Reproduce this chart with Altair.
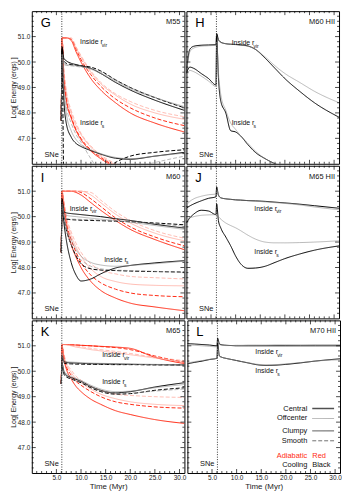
import altair as alt
import pandas as pd

# ---------------- data ----------------
T_SN = [6.0, 6.15, 6.5, 7, 8, 9, 10, 12, 14, 17, 20, 25, 31]
T_HII = [0, 0.7, 1.5, 3, 4.5, 6.0, 6.15, 6.5, 7, 8, 9, 10, 11, 12.5, 14, 16, 18, 20, 23, 26, 31]

# Panel G (M55)  keys: VIR / S region, RED adiabatic / BLK cooling, C central / O offcenter, C clumpy / S smooth
G_VIR_RED_CC = [47.7, 50.95, 50.95, 50.95, 50.85, 50.4, 50.0, 49.35, 48.9, 48.4, 48.0, 47.6, 47.25]
G_VIR_RED_CS = [47.7, 50.95, 50.95, 50.95, 50.9, 50.5, 50.1, 49.5, 49.05, 48.55, 48.2, 47.8, 47.5]
G_VIR_RED_OC = [47.7, 50.9, 50.95, 50.95, 50.9, 50.55, 50.2, 49.6, 49.15, 48.7, 48.35, 48.0, 47.75]
G_VIR_RED_OS = [47.7, 50.9, 50.95, 50.95, 50.95, 50.6, 50.25, 49.65, 49.2, 48.75, 48.45, 48.1, 47.85]
G_VIR_BLK_CC = [47.7, 50.6, 50.15, 50.05, 49.95, 49.9, 49.85, 49.75, 49.55, 49.2, 48.9, 48.5, 48.1]
G_VIR_BLK_CS = [47.7, 50.5, 50.05, 49.95, 49.9, 49.88, 49.85, 49.8, 49.65, 49.3, 49.0, 48.6, 48.2]
G_VIR_BLK_OC = [47.7, 50.4, 49.95, 49.9, 49.87, 49.85, 49.82, 49.72, 49.55, 49.25, 48.95, 48.6, 48.25]
G_VIR_BLK_OS = [47.7, 50.3, 49.9, 49.87, 49.85, 49.83, 49.8, 49.75, 49.6, 49.3, 49.0, 48.62, 48.2]
G_S_RED_CC = [47.7, 50.95, 49.4, 48.5, 47.8, 47.3, 46.95, 46.5, 46.2, 45.85, 45.5, 45.0, 44.5]
G_S_RED_CS = [47.7, 50.95, 49.5, 48.6, 47.85, 47.35, 47.0, 46.55, 46.25, 45.9, 45.6, 45.1, 44.6]
G_S_RED_OC = [47.7, 50.95, 49.7, 48.8, 48.0, 47.5, 47.15, 46.65, 46.3, 45.95, 45.6, 45.1, 44.6]
G_S_RED_OS = [47.7, 50.95, 49.8, 48.9, 48.1, 47.6, 47.2, 46.7, 46.35, 46.0, 45.7, 45.2, 44.7]
G_S_BLK_CC = [47.7, 50.5, 48.6, 47.6, 47.05, 46.8, 46.68, 46.52, 46.38, 46.22, 46.18, 46.3, 46.45]
G_S_BLK_CS = [47.7, 50.4, 45.5, 45.0, 44.8, 44.8, 44.9, 45.2, 45.6, 46.05, 46.3, 46.45, 46.55]
G_S_BLK_OC = [47.7, 50.3, 49.0, 48.0, 47.3, 46.95, 46.75, 46.55, 46.4, 46.25, 46.2, 46.3, 46.42]
G_S_BLK_OS = [47.7, 50.3, 49.2, 48.3, 47.6, 47.15, 46.85, 46.2, 45.7, 45.6, 45.8, 46.05, 46.3]

# Panel I (M60)
I_VIR_RED_CC = [48.6, 51.0, 51.0, 51.0, 51.0, 50.95, 50.85, 50.55, 50.25, 49.85, 49.5, 49.1, 48.7]
I_VIR_RED_CS = [48.6, 51.0, 51.0, 51.0, 51.0, 51.0, 50.95, 50.7, 50.4, 49.95, 49.6, 49.2, 48.85]
I_VIR_RED_OC = [48.6, 51.0, 51.0, 51.0, 51.0, 51.0, 51.0, 50.85, 50.55, 50.1, 49.75, 49.35, 49.05]
I_VIR_RED_OS = [48.6, 51.0, 51.0, 51.0, 51.0, 51.0, 51.0, 50.95, 50.65, 50.2, 49.85, 49.45, 49.15]
I_VIR_BLK_CC = [48.6, 50.7, 50.2, 50.15, 50.12, 50.1, 50.08, 50.04, 50.0, 49.92, 49.85, 49.7, 49.55]
I_VIR_BLK_CS = [48.6, 50.5, 49.95, 49.9, 49.88, 49.87, 49.86, 49.85, 49.84, 49.82, 49.8, 49.75, 49.68]
I_VIR_BLK_OC = [48.6, 50.6, 50.1, 50.05, 50.02, 50.0, 49.98, 49.94, 49.9, 49.85, 49.78, 49.65, 49.5]
I_VIR_BLK_OS = [48.6, 50.4, 49.95, 49.92, 49.9, 49.9, 49.89, 49.88, 49.86, 49.83, 49.8, 49.72, 49.62]
I_S_RED_CC = [48.6, 51.0, 50.4, 49.7, 48.9, 48.4, 48.0, 47.45, 47.1, 46.8, 46.6, 46.45, 46.3]
I_S_RED_CS = [48.6, 51.0, 50.5, 49.8, 49.1, 48.6, 48.2, 47.7, 47.4, 47.15, 47.0, 46.9, 46.85]
I_S_RED_OC = [48.6, 51.0, 50.6, 49.95, 49.25, 48.8, 48.45, 47.95, 47.65, 47.45, 47.35, 47.3, 47.28]
I_S_RED_OS = [48.6, 51.0, 50.65, 50.05, 49.4, 48.95, 48.6, 48.15, 47.9, 47.75, 47.65, 47.6, 47.55]
I_S_BLK_CC = [48.6, 50.5, 49.8, 49.1, 48.2, 47.7, 47.47, 47.55, 47.75, 47.98, 48.08, 48.18, 48.27]
I_S_BLK_CS = [48.6, 50.6, 50.0, 49.5, 48.9, 48.45, 48.15, 47.95, 47.9, 47.88, 47.86, 47.84, 47.82]
I_S_BLK_OC = [48.6, 50.5, 50.1, 49.6, 49.1, 48.7, 48.45, 48.2, 48.1, 48.05, 48.08, 48.15, 48.25]
I_S_BLK_OS = [48.6, 50.4, 50.0, 49.5, 48.9, 48.5, 48.3, 48.05, 47.95, 47.9, 47.88, 47.85, 47.8]

# Panel K (M65)
K_VIR_RED_CC = [49.5, 51.05, 51.05, 51.05, 51.04, 51.03, 51.02, 51.0, 50.98, 50.95, 50.9, 50.55, 50.3]
K_VIR_RED_CS = [49.5, 51.05, 51.05, 51.05, 51.04, 51.03, 51.02, 51.0, 50.97, 50.93, 50.85, 50.6, 50.35]
K_VIR_RED_OC = [49.5, 51.05, 51.05, 51.04, 51.0, 50.95, 50.92, 50.85, 50.8, 50.72, 50.65, 50.52, 50.38]
K_VIR_RED_OS = [49.5, 51.05, 51.05, 51.05, 51.03, 51.0, 50.97, 50.9, 50.85, 50.78, 50.7, 50.55, 50.42]
K_VIR_BLK_CC = [49.5, 50.6, 50.38, 50.35, 50.33, 50.32, 50.31, 50.3, 50.29, 50.28, 50.27, 50.26, 50.25]
K_VIR_BLK_CS = [49.5, 50.5, 50.33, 50.3, 50.29, 50.28, 50.28, 50.27, 50.27, 50.26, 50.26, 50.25, 50.25]
K_VIR_BLK_OC = [49.5, 50.7, 50.42, 50.38, 50.36, 50.35, 50.34, 50.32, 50.31, 50.3, 50.29, 50.27, 50.26]
K_VIR_BLK_OS = [49.5, 50.55, 50.36, 50.33, 50.32, 50.31, 50.3, 50.29, 50.28, 50.27, 50.27, 50.26, 50.25]
K_S_RED_CC = [49.5, 51.0, 50.5, 50.1, 49.7, 49.4, 49.2, 48.9, 48.7, 48.45, 48.3, 48.1, 47.95]
K_S_RED_CS = [49.5, 51.0, 50.6, 50.2, 49.85, 49.6, 49.45, 49.2, 49.0, 48.8, 48.7, 48.6, 48.55]
K_S_RED_OC = [49.5, 51.0, 50.65, 50.3, 49.95, 49.7, 49.55, 49.3, 49.1, 48.92, 48.8, 48.7, 48.65]
K_S_RED_OS = [49.5, 51.0, 50.7, 50.35, 50.05, 49.8, 49.65, 49.4, 49.25, 49.1, 49.05, 49.0, 48.97]
K_S_BLK_CC = [49.5, 50.3, 50.0, 49.85, 49.75, 49.68, 49.6, 49.4, 49.25, 49.15, 49.2, 49.38, 49.55]
K_S_BLK_CS = [49.5, 50.2, 49.9, 49.78, 49.7, 49.62, 49.55, 49.35, 49.2, 49.1, 49.12, 49.25, 49.35]
K_S_BLK_OC = [49.5, 50.3, 50.05, 49.9, 49.8, 49.72, 49.64, 49.45, 49.3, 49.2, 49.22, 49.35, 49.48]
K_S_BLK_OS = [49.5, 50.25, 49.95, 49.82, 49.72, 49.65, 49.58, 49.4, 49.25, 49.15, 49.15, 49.22, 49.3]

# HII panels (cooling only): central (thick) / offcenter (thin)
H_VIR_C = [49.6, 50.5, 50.62, 50.66, 50.67, 50.68, 51.12, 50.88, 50.78, 50.72, 50.7, 50.69, 50.67, 50.63, 50.5, 50.15, 49.75, 49.35, 48.85, 48.4, 47.83]
H_VIR_O = [49.5, 50.4, 50.55, 50.62, 50.64, 50.66, 51.0, 50.85, 50.76, 50.72, 50.7, 50.68, 50.66, 50.62, 50.5, 50.2, 49.85, 49.55, 49.2, 48.85, 48.4]
H_S_C = [49.55, 49.8, 49.75, 49.55, 49.35, 49.1, 51.0, 49.4, 48.45, 48.0, 47.3, 47.25, 47.1, 46.75, 46.45, 46.2, 46.0, 45.85, 45.6, 45.4, 45.1]
H_S_O = [49.4, 49.67, 49.62, 49.45, 49.25, 49.04, 50.8, 49.6, 48.7, 48.1, 47.6, 47.35, 47.1, 46.8, 46.5, 46.2, 46.0, 45.85, 45.6, 45.4, 45.1]
J_VIR_C = [50.33, 50.42, 50.5, 50.62, 50.72, 50.78, 51.17, 50.85, 50.74, 50.7, 50.68, 50.66, 50.65, 50.63, 50.62, 50.6, 50.57, 50.54, 50.49, 50.43, 50.33]
J_VIR_O = [50.45, 50.6, 50.7, 50.8, 50.86, 50.89, 51.05, 50.85, 50.74, 50.7, 50.68, 50.66, 50.65, 50.63, 50.61, 50.58, 50.55, 50.52, 50.46, 50.38, 50.27]
J_S_C = [49.75, 49.95, 50.1, 50.25, 50.22, 50.08, 50.5, 49.85, 49.55, 49.2, 48.85, 48.45, 48.15, 47.97, 47.98, 48.05, 48.2, 48.35, 48.53, 48.68, 48.85]
J_S_O = [49.88, 49.95, 50.0, 50.05, 50.07, 50.08, 50.1, 50.0, 49.9, 49.75, 49.65, 49.56, 49.45, 49.27, 49.12, 49.0, 48.97, 48.97, 48.98, 49.0, 49.05]
L_VIR_C = [51.09, 51.08, 51.07, 51.05, 51.03, 51.0, 51.3, 51.08, 51.04, 51.02, 51.01, 51.0, 51.0, 51.0, 51.0, 51.0, 51.0, 51.0, 51.0, 51.0, 51.0]
L_VIR_O = [51.04, 51.03, 51.02, 51.0, 50.98, 50.96, 51.15, 51.05, 51.02, 51.01, 51.01, 51.02, 51.02, 51.03, 51.03, 51.03, 51.04, 51.04, 51.04, 51.05, 51.05]
L_S_C = [50.29, 50.32, 50.35, 50.4, 50.46, 50.51, 51.1, 50.6, 50.55, 50.5, 50.46, 50.42, 50.38, 50.32, 50.26, 50.23, 50.24, 50.27, 50.33, 50.4, 50.49]
L_S_O = [50.33, 50.35, 50.38, 50.42, 50.47, 50.52, 50.9, 50.6, 50.55, 50.5, 50.46, 50.42, 50.38, 50.33, 50.28, 50.25, 50.26, 50.29, 50.34, 50.4, 50.45]

SNE_T = 6.1
X_LABELS = [5, 10, 15, 20, 25, 30]
Y_LABELS = [47, 48, 49, 50, 51]
LEGEND_NAMES = ["Central", "Offcenter", "Clumpy", "Smooth"]

# ---------------- style ----------------
W, H = 154, 154
RED = "#ff2a14"
FONT = "Liberation Sans"
XS = alt.Scale(domain=[0, 31], nice=False, zero=False)
YS = alt.Scale(domain=[46, 52], nice=False, zero=False)


def enc(show_x, show_y):
    if show_x:
        xa = alt.Axis(values=X_LABELS, format=".1f", ticks=False, domain=False, grid=False,
                      labelFontSize=6.5, labelPadding=2, labelColor="#222222",
                      title="Time (Myr)", titleFontSize=8, titleFontWeight="normal",
                      titlePadding=1, titleColor="#222222")
        X = alt.X("t:Q", scale=XS, axis=xa)
    else:
        X = alt.X("t:Q", scale=XS, axis=None)
    if show_y:
        ya = alt.Axis(values=Y_LABELS, format=".1f", ticks=False, domain=False, grid=False,
                      labelFontSize=6.5, labelPadding=2, labelColor="#222222",
                      title="Log[ Energy (ergs) ]", titleFontSize=7, titleFontWeight="normal",
                      titlePadding=1, titleColor="#222222")
        Y = alt.Y("E:Q", scale=YS, axis=ya)
    else:
        Y = alt.Y("E:Q", scale=YS, axis=None)
    return X, Y


def curves_df(times, named):
    rows = []
    for name, (phys, pos, geom), vals in named:
        for t, e in zip(times, vals):
            rows.append({"t": t, "E": e, "curve": name, "sty": phys + "-" + pos, "pos": pos, "geom": geom})
    return pd.DataFrame(rows)


def lines_layer(df, X, Y):
    return alt.Chart(df).mark_line(clip=True, interpolate="monotone").encode(
        x=X, y=Y, detail="curve:N",
        color=alt.Color("sty:N", scale=alt.Scale(domain=["A-c", "A-o", "K-c", "K-o"],
                                                 range=[RED, "#ff9282", "#000000", "#8c8c8c"]), legend=None),
        strokeWidth=alt.StrokeWidth("pos:N", scale=alt.Scale(domain=["c", "o"], range=[1.0, 0.6]), legend=None),
        strokeDash=alt.StrokeDash("geom:N", scale=alt.Scale(domain=["C", "S"], range=[[1, 0], [4, 2]]), legend=None),
    )


def tick_layers(X, Y):
    xmaj = pd.DataFrame({"t": [5, 10, 15, 20, 25, 30]})
    xmin = pd.DataFrame({"t": [i for i in range(1, 31) if i % 5]})
    ymaj = pd.DataFrame({"E": [47, 48, 49, 50, 51]})
    ymin = pd.DataFrame({"E": [round(46 + 0.2 * i, 1) for i in range(1, 30) if i % 5]})
    out = []
    for df, ln in ((xmaj, 4), (xmin, 2)):
        out.append(alt.Chart(df).mark_rule(color="black", strokeWidth=0.7).encode(
            x=X, y=alt.value(H), y2=alt.value(H - ln)))
        out.append(alt.Chart(df).mark_rule(color="black", strokeWidth=0.7).encode(
            x=X, y=alt.value(0), y2=alt.value(ln)))
    for df, ln in ((ymaj, 4), (ymin, 2)):
        out.append(alt.Chart(df).mark_rule(color="black", strokeWidth=0.7).encode(
            y=Y, x=alt.value(0), x2=alt.value(ln)))
        out.append(alt.Chart(df).mark_rule(color="black", strokeWidth=0.7).encode(
            y=Y, x=alt.value(W), x2=alt.value(W - ln)))
    return out


def region_labels(X, Y, vir_pos, s_pos):
    df = pd.DataFrame({"t": [vir_pos[0], s_pos[0]], "E": [vir_pos[1], s_pos[1]],
                       "main": ["Inside r", "Inside r"], "sub": ["vir", "s"]})
    main = alt.Chart(df).mark_text(align="left", baseline="middle", fontSize=7, color="#111111").encode(
        x=X, y=Y, text="main:N")
    sub = alt.Chart(df).mark_text(align="left", baseline="middle", fontSize=5, dx=22, dy=2.5, color="#111111").encode(
        x=X, y=Y, text="sub:N")
    return [main, sub]


def panel(letter, model, times, named, vir_pos, s_pos, show_x, show_y, legend=False):
    X, Y = enc(show_x, show_y)
    df = curves_df(times, named)
    layers = []
    layers.append(lines_layer(df[df["sty"].str.startswith("A")], X, Y))
    layers.append(lines_layer(df[df["sty"].str.startswith("K")], X, Y))
    sne = pd.DataFrame({"t": [SNE_T], "lab": ["SNe"]})
    layers.append(alt.Chart(sne).mark_rule(color="black", strokeWidth=0.8, strokeDash=[1, 1.5]).encode(x=X))
    layers.append(alt.Chart(sne).mark_text(align="right", baseline="alphabetic", fontSize=7.5, dx=-3, color="#111111").encode(
        x=X, y=alt.value(H - 7), text="lab:N"))
    layers += region_labels(X, Y, vir_pos, s_pos)
    lab = pd.DataFrame({"letter": [letter], "model": [model]})
    layers.append(alt.Chart(lab).mark_text(align="left", baseline="alphabetic", fontSize=13, color="black").encode(
        x=alt.value(9), y=alt.value(16), text="letter:N"))
    layers.append(alt.Chart(lab).mark_text(align="right", baseline="alphabetic", fontSize=7.5, color="#111111").encode(
        x=alt.value(W - 4), y=alt.value(13), text="model:N"))
    layers += tick_layers(X, Y)
    if legend:
        leg = pd.DataFrame({"name": LEGEND_NAMES})
        ys = [89, 99, 111.5, 121.5]
        styles = [("#505050", 1.6, [1, 0]), ("#b0b0b0", 1.0, [1, 0]),
                  ("#505050", 1.0, [1, 0]), ("#707070", 1.0, [4, 2])]
        for i, name in enumerate(LEGEND_NAMES):
            d = leg.iloc[[i]]
            layers.append(alt.Chart(d).mark_text(align="right", baseline="middle", fontSize=7.5, color="#111111").encode(
                x=alt.value(121), y=alt.value(ys[i]), text="name:N"))
            c, sw, dash = styles[i]
            layers.append(alt.Chart(d).mark_rule(color=c, strokeWidth=sw, strokeDash=dash).encode(
                x=alt.value(126), x2=alt.value(148), y=alt.value(ys[i])))
        kd = pd.DataFrame({"a": ["Adiabatic", "Cooling"], "b": ["Red", "Black"], "c": [RED, "#111111"]})
        for i, yy in enumerate([136.5, 146]):
            d = kd.iloc[[i]]
            col = kd["c"][i]
            layers.append(alt.Chart(d).mark_text(align="right", baseline="middle", fontSize=7.5, color=col).encode(
                x=alt.value(121), y=alt.value(yy), text="a:N"))
            layers.append(alt.Chart(d).mark_text(align="left", baseline="middle", fontSize=7.5, color=col).encode(
                x=alt.value(126), y=alt.value(yy), text="b:N"))
    return alt.layer(*layers).properties(width=W, height=H)


def left_named(prefix, data):
    out = []
    for region in ("VIR", "S"):
        for phys, pk in (("RED", "A"), ("BLK", "K")):
            for key in ("CC", "CS", "OC", "OS"):
                nm = f"{prefix}_{region}_{phys}_{key}"
                pos = "c" if key[0] == "C" else "o"
                geom = "C" if key[1] == "C" else "S"
                out.append((nm, (pk, pos, geom), data[nm]))
    return out


def right_named(prefix, data):
    out = []
    for region in ("VIR", "S"):
        for key in ("C", "O"):
            nm = f"{prefix}_{region}_{key}"
            out.append((nm, ("K", key.lower(), "C"), data[nm]))
    return out


D = globals()
pG = panel("G", "M55", T_SN, left_named("G", D), (9.8, 50.77), (9.8, 47.6), False, True)
pH = panel("H", "M60 HII", T_HII, right_named("H", D), (9.2, 50.74), (9.2, 47.6), False, False)
pI = panel("I", "M60", T_SN, left_named("I", D), (7.7, 50.31), (14.7, 48.3), False, True)
pJ = panel("J", "M65 HII", T_HII, right_named("J", D), (13.8, 50.31), (13.8, 48.6), False, False)
pK = panel("K", "M65", T_SN, left_named("K", D), (14.3, 50.62), (14.3, 49.57), True, True)
pL = panel("L", "M70 HII", T_HII, right_named("L", D), (13.8, 50.75), (13.8, 50.0), True, False, legend=True)

chart = alt.vconcat(
    alt.hconcat(pG, pH, spacing=0),
    alt.hconcat(pI, pJ, spacing=0),
    alt.hconcat(pK, pL, spacing=0),
    spacing=0,
).properties(padding=0).configure(font=FONT).configure_view(stroke="black", strokeWidth=1)

chart.save("out.html", embed_options={"renderer": "svg", "actions": False})
